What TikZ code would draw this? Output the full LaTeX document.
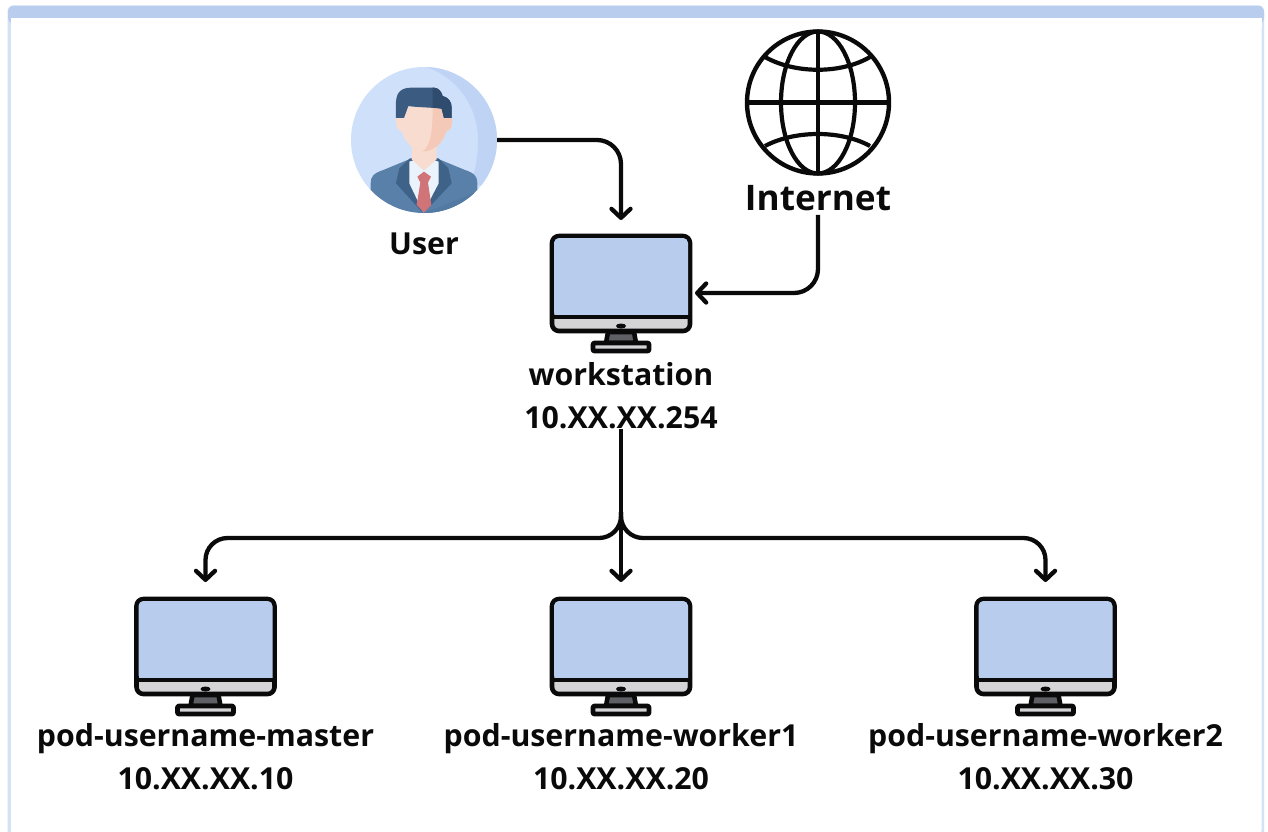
\documentclass[tikz,border=0pt]{standalone}
\usepackage{fontspec}
\setmainfont{Open Sans}
\usetikzlibrary{arrows.meta}
\definecolor{band}{HTML}{B9CEEF}
\definecolor{screen}{HTML}{B8CDEE}
\definecolor{chin}{HTML}{D4D4D6}
\definecolor{neck}{HTML}{5F5F66}
\definecolor{ink}{HTML}{0A0A0A}
\definecolor{avbg}{HTML}{CFE0FB}
\definecolor{avshade}{HTML}{BFD3F5}
\definecolor{hair}{HTML}{3B5C80}
\definecolor{hairdk}{HTML}{2F4C6E}
\definecolor{skin}{HTML}{F8DCCF}
\definecolor{skindk}{HTML}{F5C9B8}
\definecolor{jacket}{HTML}{5880A8}
\definecolor{jacketdk}{HTML}{3F6288}
\definecolor{shirt}{HTML}{EAF3FB}
\definecolor{tie}{HTML}{D07478}
\tikzset{
  conn/.style={draw=ink,line width=4.3pt,-{Straight Barb[length=9pt,width=19pt,line width=4.3pt,round]}},
  lbl/.style={font=\fontsize{30.3}{43}\selectfont\bfseries,text=ink,align=center,inner sep=0pt},
  anchorbox/.style={inner sep=0pt,outer sep=0pt,minimum width=#1},
  mline/.style={draw=ink,line width=4.6pt,line join=round},
  gline/.style={draw=ink,line width=4.2pt}
}
\newcommand{\monitor}[3]{%
  \node[anchorbox=142pt,minimum height=118pt] (#1) at (#2,#3+59) {};
  \begin{scope}[shift={(#2,#3)}]
    \fill[mline,fill=chin,rounded corners=7pt] (-69,2) rectangle (69,97);
    \fill[screen] (-67,4) [rounded corners=5pt] -- (-67,83) [sharp corners] -- (67,83) [rounded corners=5pt] -- (67,4) -- cycle;
    \draw[mline] (-69,83) -- (69,83);
    \fill[ink] (0,92) ellipse (5pt and 2.5pt);
    \fill[mline,fill=neck] (-13,98) -- (-15,109) -- (15,109) -- (13,98) -- cycle;
    \fill[mline,fill=chin,rounded corners=1pt] (-28,109) rectangle (28,117);
  \end{scope}
}
\begin{document}
\begin{tikzpicture}[x=1pt,y=-1pt]
\useasboundingbox (0,0) rectangle (1268,831);
\fill[white] (0,0) rectangle (1268,831);
\begin{scope}
\clip (0,0) rectangle (1268,831);
\fill[band!60,rounded corners=6pt] (7.5,5.5) rectangle (1264,845);
\fill[band,rounded corners=6pt] (8,5.5) -- (8,24) -- (1264,24) -- (1264,5.5) -- cycle;
\fill[white,rounded corners=6pt] (11,18) rectangle (1261.5,836);
\fill[white] (11,18) rectangle (1261.5,28);
\end{scope}

% user avatar
\node[circle,inner sep=0pt,outer sep=0pt,minimum size=146pt,fill=avbg] (user) at (424,140) {};
\begin{scope}
\clip (424,140) circle (73pt);
\fill[avshade] (423,66) .. controls (455,75) and (478,105) .. (478,140) .. controls (478,155) and (476,170) .. (470,184) -- (510,190) -- (510,60) -- cycle;
\begin{scope}[shift={(340,20)},x=0.3333pt,y=-0.3333pt]
  \fill[jacket] (92,490) .. controls (92,470) and (100,460) .. (130,450) -- (215,415) -- (290,415) -- (375,450) .. controls (405,460) and (412,470) .. (412,490) -- (412,600) -- (92,600) -- cycle;
  \fill[jacket!80!jacketdk] (412,515) -- (255,578) -- (412,600) -- cycle;
  \fill[jacketdk] (210,415) -- (178,445) -- (168,490) -- (250,580) -- (335,490) -- (325,445) -- (295,415) -- cycle;
  \fill[shirt] (208,425) -- (208,490) -- (250,578) -- (296,490) -- (296,425) -- (250,412) -- cycle;
  \fill[skin] (215,370) -- (290,370) -- (290,418) -- (252,452) -- (215,418) -- cycle;
  \fill[tie] (232,470) -- (252,455) -- (273,470) -- (264,488) -- (274,555) -- (252,578) -- (230,555) -- (241,488) -- cycle;
  \fill[skin] (168,295) .. controls (165,320) and (172,330) .. (186,335) .. controls (195,370) and (225,395) .. (252,395) .. controls (280,395) and (310,370) .. (318,335) .. controls (332,330) and (338,320) .. (335,295) -- (300,260) -- (200,260) -- cycle;
  \fill[skindk] (278,262) -- (305,262) -- (336,295) .. controls (338,320) and (332,330) .. (318,335) .. controls (310,370) and (280,395) .. (248,394) .. controls (270,380) and (278,340) .. (278,262) -- cycle;
  \fill[hair] (168,294) -- (168,245) .. controls (170,215) and (185,203) .. (215,203) -- (282,203) .. controls (295,203) and (305,215) .. (308,228) .. controls (325,232) and (335,245) .. (335,262) -- (335,294) -- (312,294) -- (305,266) .. controls (270,262) and (230,262) .. (205,258) -- (192,294) -- cycle;
  \fill[hairdk] (278,203) -- (282,203) .. controls (295,203) and (305,215) .. (308,228) .. controls (325,232) and (335,245) .. (335,262) -- (335,294) -- (312,294) -- (305,266) -- (278,262) -- cycle;
\end{scope}
\end{scope}
\node[lbl] (userlbl) at (424,244) {User};

% globe
\node[circle,inner sep=0pt,outer sep=0pt,minimum size=142pt,gline,line width=4.4pt] (globe) at (818,102.5) {};
\draw[gline] (globe.north) -- (globe.south);
\draw[gline] (globe.west) -- (globe.east);
\draw[gline] (globe.center) ellipse (37pt and 71pt);
\draw[gline] (765,57) .. controls (795,74) and (841,74) .. (870,57);
\draw[gline] (765,146) .. controls (795,130) and (841,130) .. (870,146);
\node[lbl,font=\fontsize{35.2}{40}\selectfont\bfseries] (inet) at (818,198) {Internet};

% monitors
\monitor{ws}{621}{234}
\monitor{pm}{205.5}{597}
\monitor{pw}{621}{597}
\monitor{pv}{1045.5}{597}

\node[lbl] (wslbl) at (621,395.5) {workstation\\10.XX.XX.254};
\node[lbl] (pmlbl) at (205.5,757) {pod-username-master\\10.XX.XX.10};
\node[lbl] (pwlbl) at (621,757) {pod-username-worker1\\10.XX.XX.20};
\node[lbl] (pvlbl) at (1045.5,757) {pod-username-worker2\\10.XX.XX.30};

% connectors
\draw[conn,rounded corners=24pt,shorten >=14pt] (user.east) -| (ws.north);
\draw[conn,rounded corners=24pt,shorten >=3pt,shorten <=4pt] (inet.south) |- (ws.east);
\coordinate (hub) at (621,512);
\coordinate (bus) at (621,538);
\draw[conn,shorten >=15pt] (wslbl.south) -- (pw.north);
\draw[conn,rounded corners=22pt,shorten >=15pt] (hub) -- (bus) -| (pm.north);
\draw[conn,rounded corners=22pt,shorten >=15pt] (hub) -- (bus) -| (pv.north);
\end{tikzpicture}
\end{document}
